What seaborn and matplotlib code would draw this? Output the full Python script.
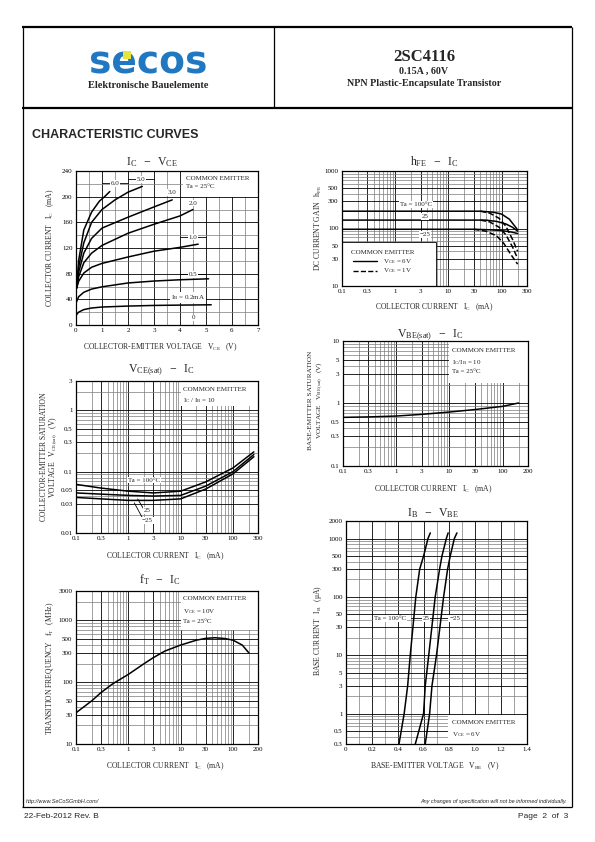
import numpy as np
import matplotlib
matplotlib.use("Agg")
import matplotlib.pyplot as plt
from matplotlib.patches import Rectangle
from matplotlib.ticker import LogLocator, NullFormatter, MultipleLocator
import seaborn as sns

sns.set_theme(style="white")
plt.rcParams.update({
    "font.family": ["Liberation Serif", "DejaVu Serif"],
    "mathtext.fontset": "custom",
    "mathtext.rm": "Liberation Serif",
    "mathtext.it": "Liberation Serif:italic",
    "axes.edgecolor": "black",
    "axes.linewidth": 0.8,
    "xtick.labelsize": 5,
    "ytick.labelsize": 5,
    "xtick.color": "black",
    "ytick.color": "black",
})

W, H = 595, 842

# ---- IC - VCE (Ta = 25C), IB in mA
IB_LABELS = ["6.0", "5.0", "3.0", "2.0", "1.0", "0.5", "$\\mathregular{I_B}$ = 0.2mA", "0"]
VCE_IB6 = [0.03, 0.1, 0.3, 0.6, 0.9, 1.1, 1.3]
IC_IB6 = [58, 100, 148, 176, 193, 200, 208]
VCE_IB5 = [0.03, 0.1, 0.3, 0.6, 1, 1.5, 2, 2.55]
IC_IB5 = [58, 90, 128, 160, 180, 195, 207, 216]
VCE_IB3 = [0.03, 0.1, 0.3, 0.6, 1, 2, 3, 3.7]
IC_IB3 = [58, 82, 112, 135, 151, 168, 184, 195]
VCE_IB2 = [0.03, 0.1, 0.3, 0.6, 1, 2, 3, 4, 4.5]
IC_IB2 = [58, 75, 97, 112, 124, 143, 157, 170, 180]
VCE_IB1 = [0.03, 0.1, 0.3, 0.6, 1, 2, 3, 4, 4.7]
IC_IB1 = [58, 68, 81, 90, 96, 106, 115, 121, 126]
VCE_IB05 = [0.02, 0.1, 0.3, 0.6, 1, 2, 3, 4, 5.1]
IC_IB05 = [36, 44, 51, 56, 59.5, 65.5, 68.5, 70.5, 72]
VCE_IB02 = [0.02, 0.1, 0.3, 0.6, 1, 2, 3, 4, 5.2]
IC_IB02 = [16, 20, 24, 26.5, 28, 29.5, 30.5, 31, 31.5]

# ---- hFE - IC  (solid VCE=6V, dashed VCE=1V)
HFE_IC_100 = [0.1, 40, 70, 100, 140, 200]
HFE_100 = [200, 200, 192, 178, 145, 95]
HFE_IC_25 = [0.1, 50, 80, 120, 160, 200]
HFE_25 = [140, 140, 133, 120, 105, 90]
HFE_IC_M25 = [0.1, 30, 60, 100, 150, 200]
HFE_M25 = [97, 97, 95, 92, 87, 82]
HFE1_IC_100 = [40, 60, 90, 120, 160, 200]
HFE1_100 = [200, 185, 150, 110, 65, 40]
HFE1_IC_25 = [40, 60, 90, 120, 160, 200]
HFE1_25 = [140, 130, 105, 78, 48, 30]
HFE1_IC_M25 = [30, 50, 80, 110, 150, 200]
HFE1_M25 = [97, 90, 75, 55, 35, 24]

# ---- VCE(sat) - IC
SAT_IC = [0.1, 0.3, 1, 3, 10, 30, 100, 250]
VCESAT_100 = [0.062, 0.054, 0.048, 0.045, 0.048, 0.068, 0.115, 0.21]
VCESAT_25 = [0.045, 0.043, 0.041, 0.040, 0.041, 0.058, 0.100, 0.19]
VCESAT_M25 = [0.038, 0.036, 0.034, 0.034, 0.036, 0.052, 0.092, 0.175]

# ---- VBE(sat) - IC
VBE_IC = [0.1, 0.3, 1, 3, 10, 30, 100, 200]
VBESAT = [0.60, 0.61, 0.63, 0.67, 0.73, 0.80, 0.90, 1.02]

# ---- fT - IC
FT_IC = [0.1, 0.2, 0.3, 0.5, 1, 2, 3, 5, 10, 20, 30, 45, 70, 100, 150, 200]
FT = [32, 50, 68, 94, 134, 200, 250, 320, 400, 480, 513, 525, 510, 480, 400, 300]

# ---- IB - VBE
IB_VALS = [0.3, 1, 3, 10, 100, 300, 500, 1000, 1250]
VBE_100 = [0.41, 0.45, 0.477, 0.497, 0.54, 0.57, 0.60, 0.634, 0.652]
VBE_25 = [0.536, 0.60, 0.613, 0.64, 0.69, 0.724, 0.742, 0.776, 0.79]
VBE_M25 = [0.613, 0.647, 0.665, 0.70, 0.755, 0.786, 0.806, 0.838, 0.858]

LOG_TICKS = [0.1, 0.3, 1, 3, 10, 30, 100, 300]

fig = plt.figure(figsize=(W / 100, H / 100), dpi=100)
fig.patch.set_facecolor("white")

bg = fig.add_axes([0, 0, 1, 1], zorder=-5)
bg.set_xlim(0, W)
bg.set_ylim(H, 0)
bg.axis("off")


def add_axes(l, t, r, b):
    ax = fig.add_axes([l / W, 1 - b / H, (r - l) / W, (b - t) / H])
    ax.set_facecolor("white")
    ax.tick_params(which="both", length=0, pad=2.5)
    for s in ax.spines.values():
        s.set_color("black")
        s.set_linewidth(0.9)
    return ax


def log_axis(axis):
    axis.set_minor_locator(LogLocator(base=10, subs=np.arange(2, 10)))
    axis.set_minor_formatter(NullFormatter())


def grids(ax):
    ax.grid(which="major", color="black", lw=0.6)
    ax.grid(which="minor", color="#7a7a7a", lw=0.5)


def label(ax, x, y, s, ha="center"):
    ax.text(x, y, s, fontsize=5, ha=ha, va="center", zorder=4,
            bbox=dict(fc="white", ec="none", pad=0.6))


def whitebox(ax, x, y, w, h, edge="none"):
    ax.add_patch(Rectangle((x, y), w, h, fc="white", ec=edge, lw=0.6, zorder=2.5))


def curve(ax, x, y, ls="-"):
    sns.lineplot(x=x, y=y, ax=ax, color="black", lw=1.1, linestyle=ls, zorder=3)


def title(x, y, s):
    bg.text(x, y, s, fontsize=8.5, ha="center", va="center")


def xlab(x, y, s):
    bg.text(x, y, s, fontsize=5.5, ha="center", va="center")


def ylab(x, y, s, size=5.5):
    bg.text(x, y, s, fontsize=size, ha="center", va="center", rotation=90)


# ---------------- page frame / header
K = dict(color="black", solid_capstyle="butt")
bg.plot([22, 572], [27, 27], lw=1.6, **K)
bg.plot([22, 572], [108, 108], lw=1.6, **K)
bg.plot([22.5, 22.5], [27, 807], lw=0.9, **K)
bg.plot([571.5, 571.5], [27, 807], lw=0.9, **K)
bg.plot([22, 572], [807, 807], lw=0.9, **K)
bg.plot([274, 274], [27, 108], lw=0.9, **K)

bg.text(148, 64, "secos", fontsize=27, fontweight="heavy", color="#1f78c1",
        family="DejaVu Sans", ha="center", va="center", zorder=2)
bg.add_patch(Rectangle((123, 51), 8, 8, fc="#e6e63a", ec="none", zorder=3))
bg.text(148, 86, "Elektronische Bauelemente", fontsize=7.5, fontweight="bold",
        ha="center", va="center")
bg.text(424, 57, "2SC4116", fontsize=12, fontweight="bold", ha="center", va="center")
bg.text(424, 71, "0.15A , 60V", fontsize=7.2, fontweight="bold", ha="center", va="center")
bg.text(424, 84, "NPN Plastic-Encapsulate Transistor", fontsize=7.2, fontweight="bold",
        ha="center", va="center")
bg.text(32, 135, "CHARACTERISTIC CURVES", fontsize=9, fontweight="bold",
        family="Liberation Sans", ha="left", va="center")

bg.text(26, 802, "http://www.SeCoSGmbH.com/", fontsize=4, style="italic",
        family="Liberation Sans", ha="left", va="center")
bg.text(567, 802, "Any changes of specification will not be informed individually.",
        fontsize=4, style="italic", family="Liberation Sans", ha="right", va="center")
bg.text(24, 816, "22-Feb-2012 Rev. B", fontsize=6, family="Liberation Sans",
        ha="left", va="center")
bg.text(568, 816, "Page  2  of  3", fontsize=6, family="Liberation Sans",
        ha="right", va="center")

# ---------------- chart 1 : IC - VCE
ax1 = add_axes(76, 171, 258, 325)
ax1.set_xlim(0, 7)
ax1.set_ylim(0, 240)
ax1.set_xticks(range(8))
ax1.set_yticks(range(0, 241, 40))
ax1.xaxis.set_minor_locator(MultipleLocator(0.5))
ax1.yaxis.set_minor_locator(MultipleLocator(20))
grids(ax1)
for vx, iy in [(VCE_IB6, IC_IB6), (VCE_IB5, IC_IB5), (VCE_IB3, IC_IB3), (VCE_IB2, IC_IB2),
               (VCE_IB1, IC_IB1), (VCE_IB05, IC_IB05), (VCE_IB02, IC_IB02)]:
    curve(ax1, vx, iy)
whitebox(ax1, 4.1, 199, 2.9, 41)
ax1.text(4.25, 228, "COMMON EMITTER", fontsize=5, va="center", zorder=4)
ax1.text(4.25, 216, "Ta = 25°C", fontsize=5, va="center", zorder=4)
lab_pos = [(1.5, 221), (2.5, 227), (3.7, 206), (4.5, 190), (4.5, 137), (4.5, 79), (4.3, 43), (4.5, 11)]
for (lx, ly), s in zip(lab_pos, IB_LABELS):
    if s in ("6.0", "5.0", "1.0", "0.5"):
        ax1.plot([lx - 0.5, lx + 0.5], [ly, ly], color="black", lw=0.6, zorder=3.5)
    label(ax1, lx, ly, s)
title(152, 162, r"$\mathregular{I_C\ \ -\ \ V_{CE}}$")
xlab(160, 347, r"COLLECTOR-EMITTER VOLTAGE   $\mathregular{V_{CE}}$   (V)")
ylab(50, 248, r"COLLECTOR CURRENT   $\mathregular{I_C}$   (mA)")

# ---------------- chart 2 : hFE - IC
ax2 = add_axes(342, 171, 527, 286)
ax2.set_xscale("log")
ax2.set_yscale("log")
ax2.set_xlim(0.1, 300)
ax2.set_ylim(10, 1000)
ax2.set_xticks(LOG_TICKS, ["0.1", "0.3", "1", "3", "10", "30", "100", "300"])
ax2.set_yticks([10, 30, 50, 100, 300, 500, 1000], ["10", "30", "50", "100", "300", "500", "1000"])
log_axis(ax2.xaxis)
log_axis(ax2.yaxis)
grids(ax2)
curve(ax2, HFE_IC_100, HFE_100)
curve(ax2, HFE_IC_25, HFE_25)
curve(ax2, HFE_IC_M25, HFE_M25)
curve(ax2, HFE1_IC_100, HFE1_100, "--")
curve(ax2, HFE1_IC_25, HFE1_25, "--")
curve(ax2, HFE1_IC_M25, HFE1_M25, "--")
label(ax2, 2.5, 262, "Ta = 100°C")
label(ax2, 3.6, 160, "25")
label(ax2, 3.6, 78, "\u221225")
whitebox(ax2, 0.1, 10, 5.7, 49, edge="black")
ax2.text(0.15, 39, "COMMON EMITTER", fontsize=5, va="center", zorder=4)
ax2.plot([0.16, 0.45], [27, 27], color="black", lw=1.0, zorder=4)
ax2.plot([0.16, 0.45], [18.5, 18.5], color="black", lw=1.0, ls="--", zorder=4)
ax2.text(0.6, 27, r"$\mathregular{V_{CE}}$ = 6V", fontsize=5, va="center", zorder=4)
ax2.text(0.6, 18.5, r"$\mathregular{V_{CE}}$ = 1V", fontsize=5, va="center", zorder=4)
title(434, 162, r"$\mathregular{h_{FE}\ \ -\ \ I_C}$")
xlab(434, 307, r"COLLECTOR CURRENT   $\mathregular{I_C}$   (mA)")
ylab(318, 228, r"DC CURRENT GAIN   $\mathregular{h_{FE}}$")

# ---------------- chart 3 : VCE(sat) - IC
ax3 = add_axes(76, 381, 258, 533)
ax3.set_xscale("log")
ax3.set_yscale("log")
ax3.set_xlim(0.1, 300)
ax3.set_ylim(0.01, 3)
ax3.set_xticks(LOG_TICKS, ["0.1", "0.3", "1", "3", "10", "30", "100", "300"])
ax3.set_yticks([0.01, 0.03, 0.05, 0.1, 0.3, 0.5, 1, 3],
               ["0.01", "0.03", "0.05", "0.1", "0.3", "0.5", "1", "3"])
log_axis(ax3.xaxis)
log_axis(ax3.yaxis)
grids(ax3)
curve(ax3, SAT_IC, VCESAT_100)
curve(ax3, SAT_IC, VCESAT_25)
curve(ax3, SAT_IC, VCESAT_M25)
whitebox(ax3, 10, 1.18, 290, 1.82)
ax3.text(11, 2.2, "COMMON EMITTER", fontsize=5, va="center", zorder=4)
ax3.text(11, 1.45, r"$\mathregular{I_C\ /\ I_B}$ = 10", fontsize=5, va="center", zorder=4)
label(ax3, 2.0, 0.073, "Ta = 100°C")
ax3.plot([1.5, 2.0], [0.036, 0.024], color="black", lw=0.6, zorder=3.5)
ax3.plot([1.3, 1.9], [0.031, 0.017], color="black", lw=0.6, zorder=3.5)
label(ax3, 2.3, 0.023, "25")
label(ax3, 2.3, 0.016, "\u221225")
title(161, 370, r"$\mathregular{V_{CE(sat)}\ \ -\ \ I_C}$")
xlab(165, 556, r"COLLECTOR CURRENT   $\mathregular{I_C}$   (mA)")
ylab(44, 457, "COLLECTOR-EMITTER SATURATION")
ylab(53, 457, r"VOLTAGE   $\mathregular{V_{CE(sat)}}$   (V)")

# ---------------- chart 4 : VBE(sat) - IC
ax4 = add_axes(343, 341, 528, 466)
ax4.set_xscale("log")
ax4.set_yscale("log")
ax4.set_xlim(0.1, 300)
ax4.set_ylim(0.1, 10)
ax4.set_xticks(LOG_TICKS, ["0.1", "0.3", "1", "3", "10", "30", "100", "200"])
ax4.set_yticks([0.1, 0.3, 0.5, 1, 3, 5, 10], ["0.1", "0.3", "0.5", "1", "3", "5", "10"])
log_axis(ax4.xaxis)
log_axis(ax4.yaxis)
grids(ax4)
curve(ax4, VBE_IC, VBESAT)
whitebox(ax4, 10, 2.1, 290, 7.9)
ax4.text(11, 7.1, "COMMON EMITTER", fontsize=5, va="center", zorder=4)
ax4.text(11, 4.6, r"$\mathregular{I_C/I_B}$ = 10", fontsize=5, va="center", zorder=4)
ax4.text(11, 3.2, "Ta = 25°C", fontsize=5, va="center", zorder=4)
title(430, 335, r"$\mathregular{V_{BE(sat)}\ \ -\ \ I_C}$")
xlab(433, 489, r"COLLECTOR CURRENT   $\mathregular{I_C}$   (mA)")
ylab(310, 400, "BASE-EMITTER SATURATION", size=5.2)
ylab(320, 400, r"VOLTAGE   $\mathregular{V_{BE(sat)}}$   (V)", size=5.2)

# ---------------- chart 5 : fT - IC
ax5 = add_axes(76, 591, 258, 744)
ax5.set_xscale("log")
ax5.set_yscale("log")
ax5.set_xlim(0.1, 300)
ax5.set_ylim(10, 3000)
ax5.set_xticks(LOG_TICKS, ["0.1", "0.3", "1", "3", "10", "30", "100", "200"])
ax5.set_yticks([10, 30, 50, 100, 300, 500, 1000, 3000],
               ["10", "30", "50", "100", "300", "500", "1000", "3000"])
log_axis(ax5.xaxis)
log_axis(ax5.yaxis)
grids(ax5)
curve(ax5, FT_IC, FT)
whitebox(ax5, 10, 700, 290, 2300)
ax5.text(11, 2237, "COMMON EMITTER", fontsize=5, va="center", zorder=4)
ax5.text(11, 1405, r"$\mathregular{V_{CE}}$ = 10V", fontsize=5, va="center", zorder=4)
ax5.text(11, 960, "Ta = 25°C", fontsize=5, va="center", zorder=4)
title(160, 580, r"$\mathregular{f_T\ \ -\ \ I_C}$")
xlab(165, 766, r"COLLECTOR CURRENT   $\mathregular{I_C}$   (mA)")
ylab(50, 668, r"TRANSITION FREQUENCY   $\mathregular{f_T}$   (MHz)")

# ---------------- chart 6 : IB - VBE
ax6 = add_axes(346, 521, 527, 744)
ax6.set_yscale("log")
ax6.set_xlim(0, 1.4)
ax6.set_ylim(0.3, 2000)
ax6.set_xticks(np.arange(0, 1.41, 0.2), ["0", "0.2", "0.4", "0.6", "0.8", "1.0", "1.2", "1.4"])
ax6.set_yticks([0.3, 0.5, 1, 3, 5, 10, 30, 50, 100, 300, 500, 1000, 2000],
               ["0.3", "0.5", "1", "3", "5", "10", "30", "50", "100", "300", "500", "1000", "2000"])
ax6.xaxis.set_minor_locator(MultipleLocator(0.1))
log_axis(ax6.yaxis)
grids(ax6)
curve(ax6, VBE_100, IB_VALS)
curve(ax6, VBE_25, IB_VALS)
curve(ax6, VBE_M25, IB_VALS)
ax6.plot([0.5, 0.86], [43, 43], color="black", lw=0.6, zorder=2.8)
label(ax6, 0.34, 43, "Ta = 100°C")
label(ax6, 0.62, 43, "25")
label(ax6, 0.84, 43, "\u221225")
whitebox(ax6, 0.79, 0.3, 0.61, 0.65)
ax6.text(0.82, 0.70, "COMMON EMITTER", fontsize=5, va="center", zorder=4)
ax6.text(0.82, 0.43, r"$\mathregular{V_{CE}}$ = 6V", fontsize=5, va="center", zorder=4)
title(433, 513, r"$\mathregular{I_B\ \ -\ \ V_{BE}}$")
xlab(435, 766, r"BASE-EMITTER VOLTAGE   $\mathregular{V_{BE}}$   (V)")
ylab(318, 630, r"BASE CURRENT   $\mathregular{I_B}$   (μA)")

fig.savefig("out.png", dpi=100, facecolor="white")
